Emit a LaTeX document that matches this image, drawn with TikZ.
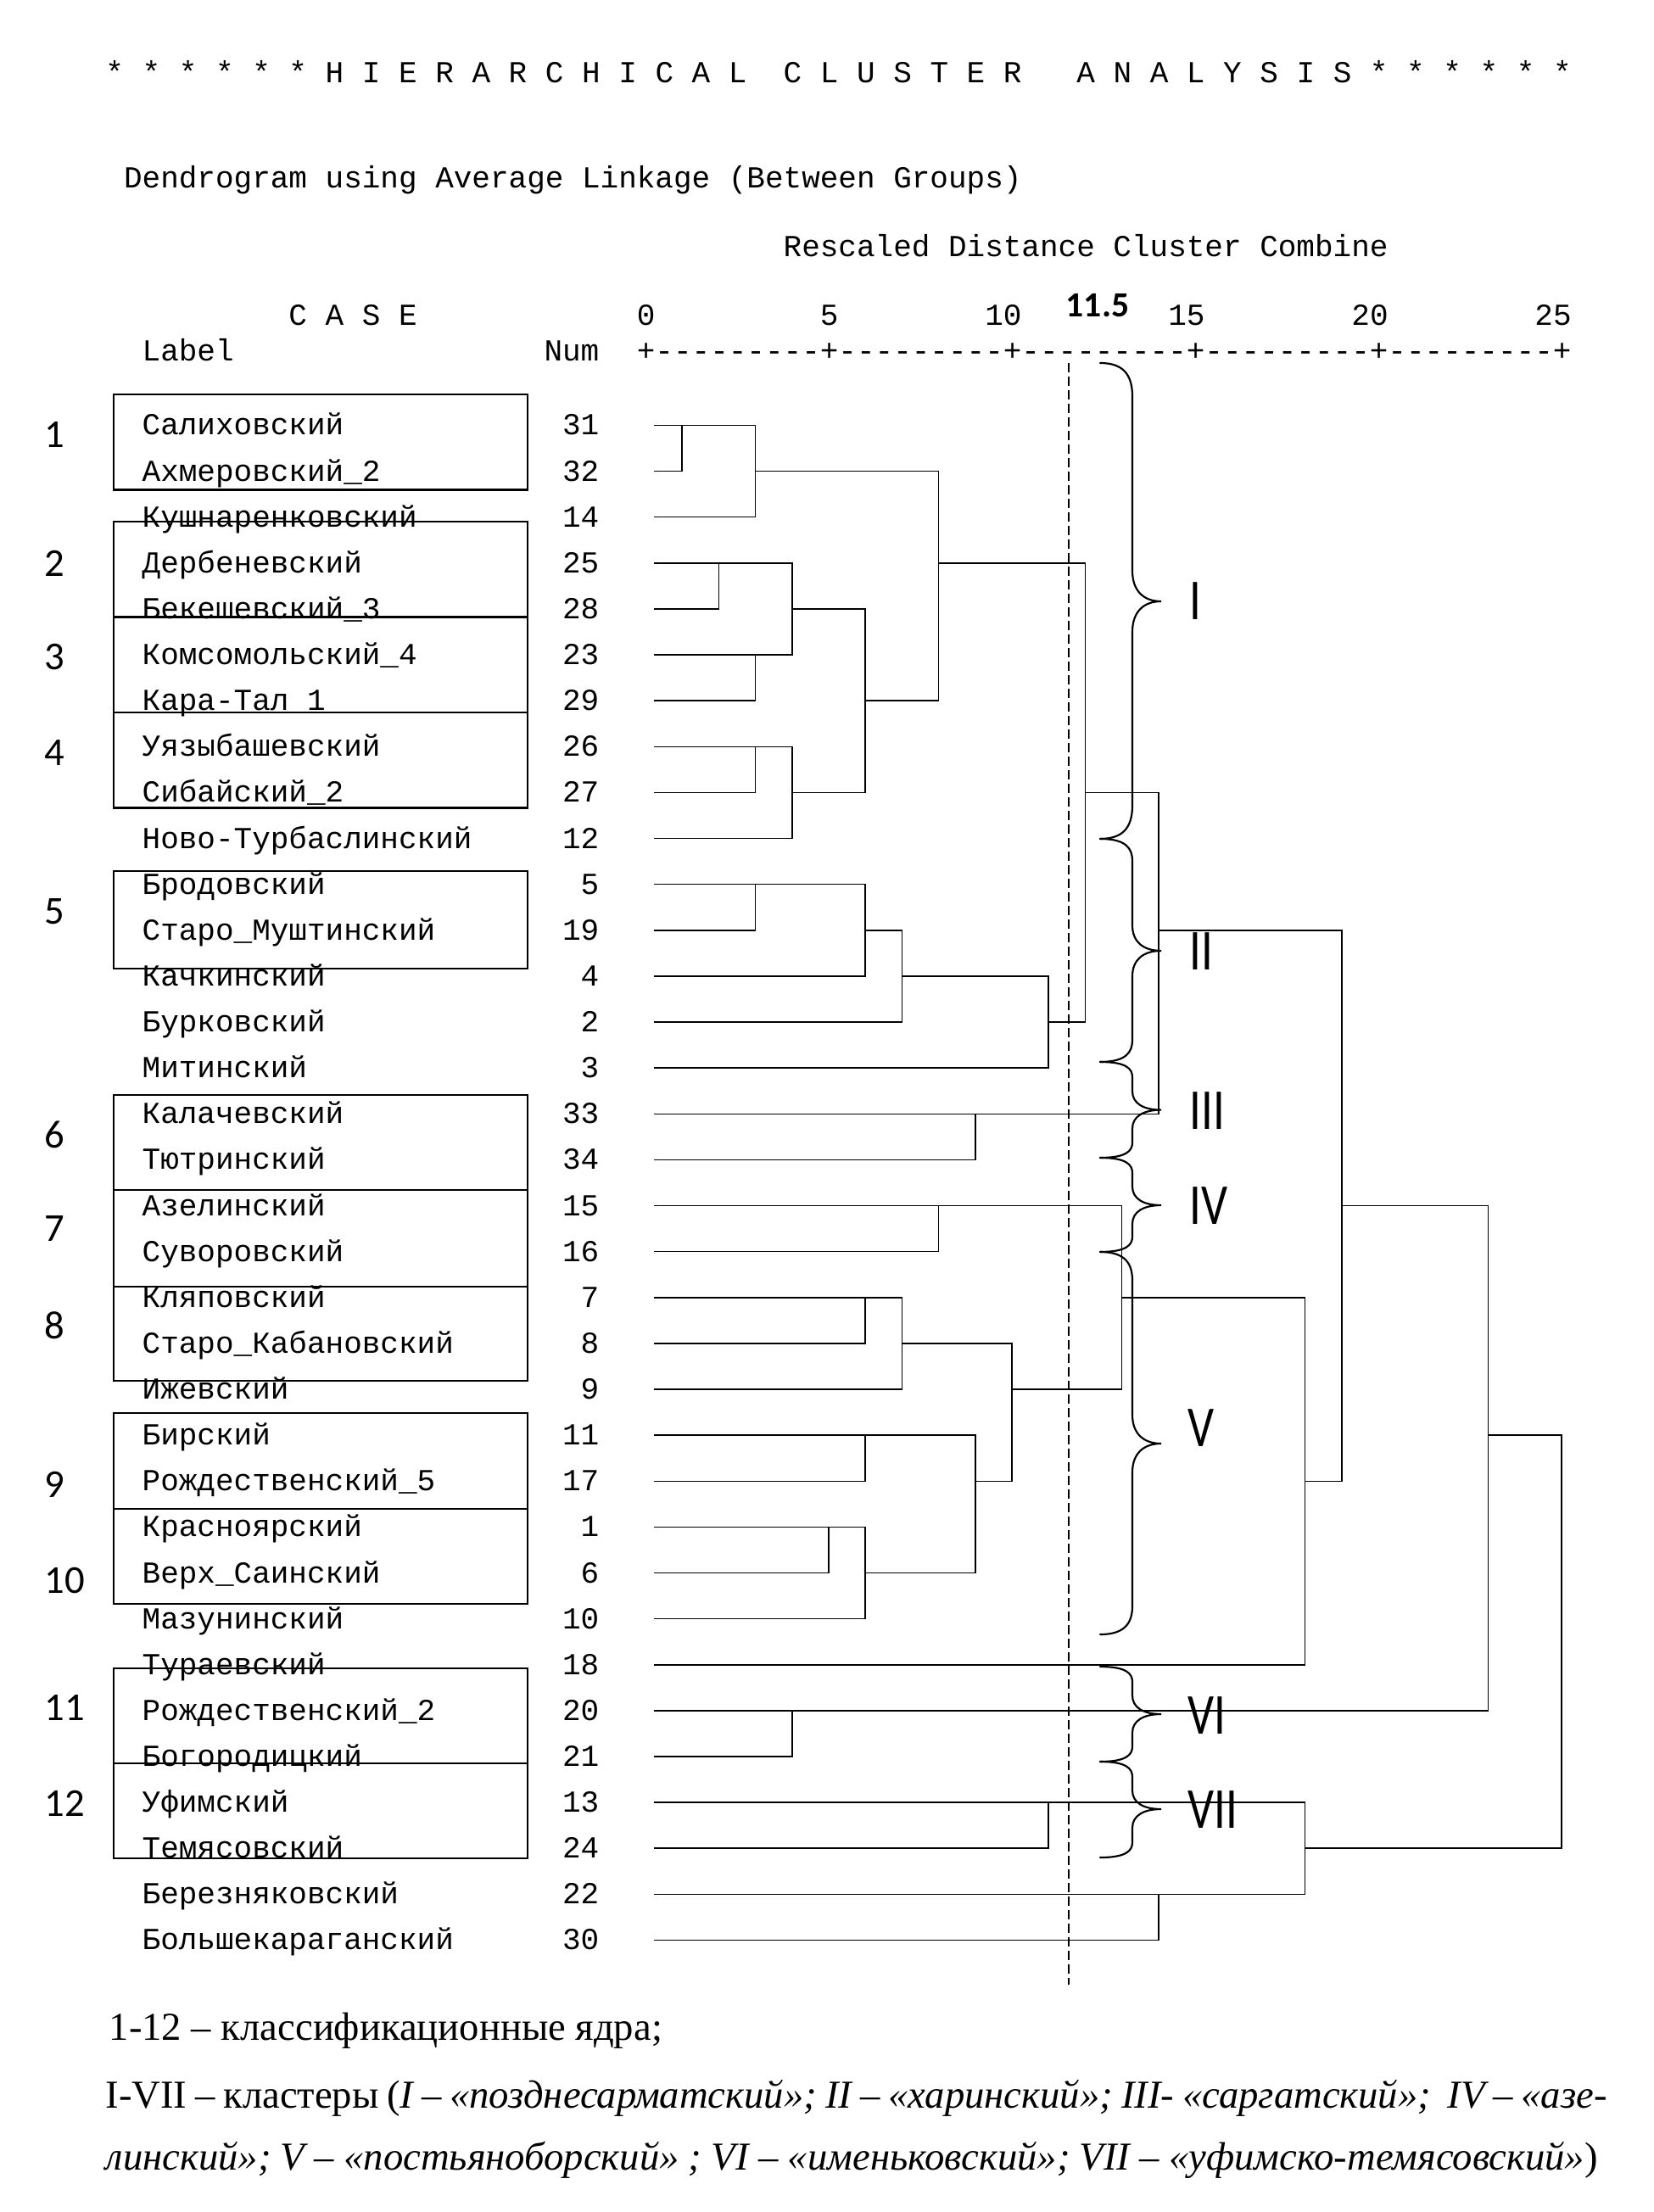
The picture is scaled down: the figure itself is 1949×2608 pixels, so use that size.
\documentclass[tikz,border=0pt]{standalone}
\usepackage{fontspec}
\setmainfont{Liberation Serif}
\setmonofont{Liberation Mono}
\newfontfamily\carl{Carlito}
\usepackage{graphicx}
\tikzset{
  dl/.style={line width=0.45pt, line cap=rect},
  boxst/.style={line width=0.7pt},
  bracest/.style={line width=0.65pt, line cap=round},
  cutline/.style={line width=0.4pt, dash pattern=on 3.2pt off 1.6pt},
  mono/.style={font=\fontsize{10.8}{12}\selectfont\ttfamily, inner sep=0pt},
  core/.style={font=\carl\fontsize{14}{16}\selectfont, inner sep=0pt, anchor=west},
  roman/.style={font=\carl\fontsize{20.5}{24}\selectfont, inner sep=0pt, anchor=west},
  serif/.style={font=\fontsize{14}{16}\selectfont, inner sep=0pt, anchor=base west}
}
\newcommand\clbrace[5]{%
  \draw[bracest] (1297,#1) .. controls (1328,#1) and (1335,{#1+0.45*#4}) .. (1335,{#1+#4})
    -- (1335,{#2-#5}) .. controls (1335,{#2-0.35*#5}) and (1348,#2) .. (1369,#2)
    .. controls (1348,#2) and (1335,{#2+0.35*#5}) .. (1335,{#2+#5})
    -- (1335,{#3-#4}) .. controls (1335,{#3-0.45*#4}) and (1328,#3) .. (1297,#3);}
\begin{document}
\begin{tikzpicture}[x=0.3pt,y=-0.3pt]
\useasboundingbox (0,0) rectangle (1949,2608);
\fill[white] (0,0) rectangle (1949,2608);

% headers
\node[mono,anchor=base west] (title) at (123.8,98) {*~*~*~*~*~*~H~I~E~R~A~R~C~H~I~C~A~L~~C~L~U~S~T~E~R~~~A~N~A~L~Y~S~I~S~*~*~*~*~*~*};
\node[mono,anchor=base west] (dendro) at (145.4,222) {Dendrogram using Average Linkage (Between Groups)};
\node[mono,anchor=base west] (resc) at (923,303) {Rescaled Distance Cluster Combine};
\node[mono,anchor=base west] (case) at (339.8,384) {C~A~S~E};
\node[mono,anchor=base west] (scale) at (750.2,384) {0~~~~~~~~~5~~~~~~~~10~~~~~~~~15~~~~~~~~20~~~~~~~~25};
\node[mono,anchor=base west] (lablbl) at (167,426) {Label};
\node[mono,anchor=base east] (numlbl) at (707,426) {Num};
\node[mono,anchor=base west] (axis) at (750.2,426) {+---------+---------+---------+---------+---------+};
\node[font=\carl\bfseries\fontsize{12.5}{14}\selectfont, inner sep=0pt] (cut) at (1294,360) {11.5};

% case labels and numbers
\foreach \k/\nm/\nu in {0/Салиховский/31, 1/Ахмеровский\_2/32, 2/Кушнаренковский/14,
  3/Дербеневский/25, 4/Бекешевский\_3/28, 5/Комсомольский\_4/23, 6/Кара-Тал\_1/29,
  7/Уязыбашевский/26, 8/Сибайский\_2/27, 9/Ново-Турбаслинский/12, 10/Бродовский/5,
  11/Старо\_Муштинский/19, 12/Качкинский/4, 13/Бурковский/2, 14/Митинский/3,
  15/Калачевский/33, 16/Тютринский/34, 17/Азелинский/15, 18/Суворовский/16,
  19/Кляповский/7, 20/Старо\_Кабановский/8, 21/Ижевский/9, 22/Бирский/11,
  23/Рождественский\_5/17, 24/Красноярский/1, 25/Верх\_Саинский/6, 26/Мазунинский/10,
  27/Тураевский/18, 28/Рождественский\_2/20, 29/Богородицкий/21, 30/Уфимский/13,
  31/Темясовский/24, 32/Березняковский/22, 33/Большекараганский/30}{
  \node[mono,anchor=base west] (lab\k) at (167,{513+54.12*\k}) {\nm};
  \node[mono,anchor=base east] (num\k) at (707,{513+54.12*\k}) {\nu};
}

% core boxes
\foreach \t/\b [count=\i] in {465/577.5, 615/727.5, 727.5/840, 840/952.5, 1027/1142,
  1291/1403, 1403/1517, 1517/1628, 1666/1779, 1779/1891, 1967/2079, 2079/2191}{
  \draw[boxst] (134,\t) rectangle (622,\b);
}
\foreach \i/\yy in {1/512, 2/664, 3/775, 4/888, 5/1075, 6/1338, 7/1449, 8/1563,
  9/1750, 10/1863, 11/2013, 12/2126}{
  \node[core] (core\i) at (52,\yy) {\i};
}

% dendrogram: horizontal segments (row/from/to in rescaled distance)
\foreach \r/\a/\b in {0/0.25/3, 1/0.25/1, 1/3/8, 2/0.25/3, 3/0.25/4, 3/8/12, 4/0.25/2, 4/4/6,
  5/0.25/4, 6/0.25/3, 6/6/8, 7/0.25/4, 8/0.25/3, 8/4/6, 8/12/14, 9/0.25/4, 10/0.25/6,
  11/0.25/3, 11/6/7, 11/14/19, 12/0.25/6, 12/7/11, 13/0.25/7, 13/11/12, 14/0.25/11,
  15/0.25/14, 16/0.25/9, 17/0.25/13, 17/19/23, 18/0.25/8, 19/0.25/7, 19/13/18, 20/0.25/6,
  20/7/10, 21/0.25/7, 21/10/13, 22/0.25/9, 22/23/25, 23/0.25/6, 23/9/10, 23/18/19,
  24/0.25/6, 25/0.25/5, 25/6/9, 26/0.25/6, 27/0.25/18, 28/0.25/23, 29/0.25/4,
  30/0.25/18, 31/0.25/11, 31/18/25, 32/0.25/18, 33/0.25/14}{
  \draw[dl] ({761+43.2*\a},{501.5+54.12*\r}) -- ({761+43.2*\b},{501.5+54.12*\r});
}
% vertical segments (distance/row from/row to)
\foreach \d/\p/\q in {1/0/1, 3/0/2, 8/1/6, 12/3/13, 2/3/4, 4/3/5, 3/5/6, 6/4/8, 3/7/8,
  4/7/9, 14/8/15, 3/10/11, 6/10/12, 7/11/13, 11/12/14, 19/11/23, 9/15/16, 8/17/18,
  13/17/21, 23/17/28, 6/19/20, 7/19/21, 18/19/27, 10/20/23, 6/22/23, 9/22/25, 25/22/31,
  5/24/25, 6/24/26, 4/28/29, 11/30/31, 18/30/32, 14/32/33}{
  \draw[dl] ({761+43.2*\d},{501.5+54.12*\p}) -- ({761+43.2*\d},{501.5+54.12*\q});
}

% cut line at 11.5
\coordinate (cuttop) at (1260,428);
\coordinate (cutbot) at (1260,2340);
\draw[cutline] (cuttop) -- (cutbot);

% cluster braces
\clbrace{428}{709}{989}{40}{36}
\clbrace{989}{1121}{1252}{26}{30}
\clbrace{1252}{1308.6}{1365}{18}{22}
\clbrace{1365}{1421}{1476}{18}{22}
\clbrace{1476}{1702}{1927}{34}{34}
\clbrace{1965}{2021}{2077}{18}{22}
\clbrace{2077}{2133}{2190}{18}{22}

\node[roman] (cI) at (1402,709) {\scalebox{0.8}[1]{I}};
\node[roman] (cII) at (1402,1122) {\scalebox{0.8}[1]{II}};
\node[roman] (cIII) at (1402,1310) {\scalebox{0.8}[1]{III}};
\node[roman] (cIV) at (1402,1422) {\scalebox{0.8}[1]{IV}};
\node[roman] (cV) at (1400,1684) {\scalebox{0.8}[1]{V}};
\node[roman] (cVI) at (1400,2023) {\scalebox{0.8}[1]{VI}};
\node[roman] (cVII) at (1400,2134) {\scalebox{0.8}[1]{VII}};

% legend
\node[serif] (note1) at (128,2405) {1-12 – классификационные ядра;};
\node[serif] (note2) at (124,2485) {\makebox[531pt][s]{I-VII – кластеры (\textit{I – «позднесарматский»; II – «харинский»; III- «саргатский»;\ \ IV – «азе-}}};
\node[serif] (note3) at (124,2558) {\makebox[527.7pt][s]{\textit{линский»; V – «постьяноборский» ; VI – «именьковский»; VII – «уфимско-темясовский»})}};
\end{tikzpicture}
\end{document}
